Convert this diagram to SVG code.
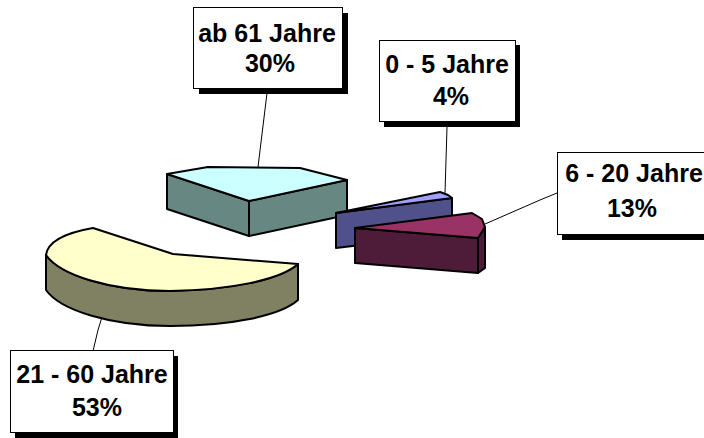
<svg xmlns="http://www.w3.org/2000/svg" width="704" height="438" viewBox="0 0 704 438">
<style>
.edge{stroke:#000;stroke-width:2;stroke-linejoin:round}
.box{fill:#fff;stroke:#000;stroke-width:1}
.shadow{fill:#000}
.lbl{font-family:"Liberation Sans",Arial,sans-serif;font-weight:bold;font-size:25px;fill:#000;text-anchor:middle}
.lead{stroke:#000;stroke-width:1;fill:none}
</style>
<rect width="704" height="438" fill="#fff"/>
<g id="slice-21-60">
<path class="edge" fill="#808062" d="M46,255 C60,275 110,291 170,291 C230,290 280,280 298,264 L298,300 C280,316 230,326 170,326 C110,326 60,310 46,290 Z"/>
<path class="edge" fill="#FFFFCC" d="M46,255 C48,240 70,232 93,228 L173,254 L298,264 C280,280 230,290 170,291 C110,291 60,275 46,255 Z"/>
</g>
<g id="slice-ab61">
<polygon class="edge" fill="#668782" points="167,174 249,201 249,236 167,209"/>
<polygon class="edge" fill="#668782" points="249,201 347,180 347,215 249,236"/>
<polygon class="edge" fill="#CCFFFF" points="167,174 208,167 300,168 347,180 249,201"/>
</g>
<g id="slice-0-5">
<polygon class="edge" fill="#50508A" points="336,213 452,198 452,234 336,248"/>
<polygon class="edge" fill="#A0A0FF" points="336,213 440,192 448,195 452,198"/>
</g>
<g id="slice-6-20">
<polygon class="edge" fill="#4E1C38" points="355,228 478,238 478,273 355,263"/>
<polygon class="edge" fill="#4E1C38" points="478,238 485,227 485,268 478,273"/>
<polygon class="edge" fill="#993366" points="355,228 472,213 482,219 485,227 478,238"/>
</g>
<g id="connectors">
<path class="lead" d="M267,93 L258,167"/>
<path class="lead" d="M447,127 L445,193"/>
<path class="lead" d="M485,224 L540,200 L557,193"/>
<path class="lead" d="M102,317 L98,330 L93,351"/>
</g>
<g id="label-ab61">
<rect class="shadow" x="199" y="13" width="149" height="81"/>
<rect class="box" x="193.5" y="7.5" width="149" height="81"/>
<text class="lbl" x="267" y="42">ab 61 Jahre</text>
<text class="lbl" x="270" y="72">30%</text>
</g>
<g id="label-0-5">
<rect class="shadow" x="384" y="45" width="136" height="82"/>
<rect class="box" x="379.5" y="40.5" width="136" height="81"/>
<text class="lbl" x="447" y="73">0 - 5 Jahre</text>
<text class="lbl" x="451" y="105">4%</text>
</g>
<g id="label-6-20">
<rect class="shadow" x="562" y="157" width="160" height="83"/>
<rect class="box" x="557.5" y="152.5" width="160" height="82"/>
<text class="lbl" x="634" y="182">6 - 20 Jahre</text>
<text class="lbl" x="632" y="217">13%</text>
</g>
<g id="label-21-60">
<rect class="shadow" x="15" y="356" width="163" height="82"/>
<rect class="box" x="10.5" y="350.5" width="163" height="82"/>
<text class="lbl" x="92" y="383">21 - 60 Jahre</text>
<text class="lbl" x="97" y="416">53%</text>
</g>
</svg>
